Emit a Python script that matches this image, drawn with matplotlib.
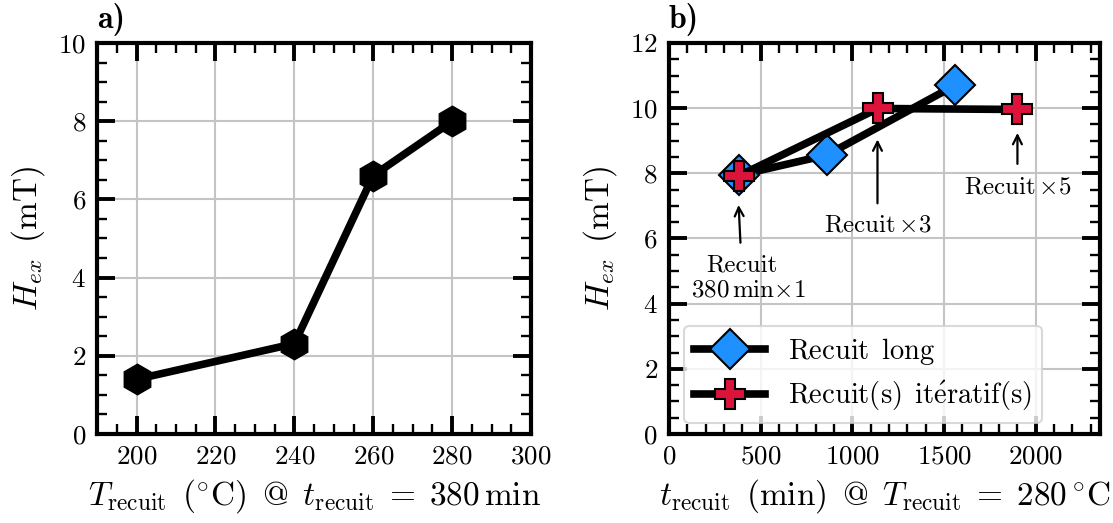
import matplotlib
matplotlib.use("Agg")
import matplotlib.pyplot as plt
from matplotlib.ticker import MultipleLocator
from matplotlib.lines import Line2D

plt.rcParams['font.family'] = ['cmr10', 'DejaVu Serif']
plt.rcParams['mathtext.fontset'] = 'cm'
plt.rcParams['axes.formatter.use_mathtext'] = True
plt.rcParams['axes.unicode_minus'] = False

# Panel a data
temp_a = [200, 240, 260, 280]
hex_a = [1.40, 2.31, 6.61, 8.0]

# Panel b data
t_long = [380, 860, 1560]
hex_long = [7.94, 8.56, 10.70]
t_iter = [380, 1140, 1900]
hex_iter = [7.92, 9.99, 9.96]

label_long = r'$\mathrm{Recuit\ \,long}$'
label_iter = r'$\mathrm{Recuit(s)\ \,it\acute{e}ratif(s)}$'

BLUE = '#1E90FF'
RED = '#DC143C'

fig = plt.figure(figsize=(11.13, 5.23), dpi=100)
axA = fig.add_axes([0.0872, 0.1702, 0.390, 0.7476])
axB = fig.add_axes([0.601, 0.1702, 0.3873, 0.7476])

def style(ax):
    for s in ax.spines.values():
        s.set_linewidth(3.0)
    ax.tick_params(which='both', direction='in', top=True, right=True, labelsize=19.5)
    ax.tick_params(which='major', length=13, width=2.8, pad=8)
    ax.tick_params(which='minor', length=7.5, width=1.7)
    ax.grid(True, which='major', color='#c4c4c4', lw=1.5)
    ax.set_axisbelow(True)

LABEL_FS = 24
LW = 5.5

# ---- Panel a
style(axA)
axA.plot(temp_a, hex_a, '-', color='k', lw=LW, marker='h', ms=22,
         mfc='k', mec='k')
axA.set_xlim(190, 300)
axA.set_ylim(0, 10)
axA.xaxis.set_major_locator(MultipleLocator(20))
axA.xaxis.set_minor_locator(MultipleLocator(5))
axA.yaxis.set_major_locator(MultipleLocator(2))
axA.yaxis.set_minor_locator(MultipleLocator(0.5))
axA.set_xlabel(r'$T_{\mathrm{recuit}}\ \,(^{\circ}\mathrm{C})\ \,@\ \,t_{\mathrm{recuit}}\;=\;380\,\mathrm{min}$',
               fontsize=LABEL_FS, labelpad=6)
axA.set_ylabel(r'$H_{ex}\ \,(\mathrm{mT})$', fontsize=LABEL_FS, labelpad=8)
axA.text(0.0, 1.038, 'a)', transform=axA.transAxes, fontsize=23,
         family='cmb10', ha='left', va='baseline')

# ---- Panel b
style(axB)
axB.plot(t_long, hex_long, '-', color='k', lw=LW, marker='D', ms=20.5,
         mfc=BLUE, mec='k', mew=1.5)
axB.plot(t_iter, hex_iter, '-', color='k', lw=LW, marker='P', ms=22,
         mfc=RED, mec='k', mew=1.5)
axB.set_xlim(0, 2350)
axB.set_ylim(0, 12)
axB.xaxis.set_major_locator(MultipleLocator(500))
axB.xaxis.set_minor_locator(MultipleLocator(100))
axB.yaxis.set_major_locator(MultipleLocator(2))
axB.yaxis.set_minor_locator(MultipleLocator(0.5))
axB.set_xlabel(r'$t_{\mathrm{recuit}}\ \,(\mathrm{min})\ \,@\ \,T_{\mathrm{recuit}}\;=\;280\,^{\circ}\mathrm{C}$',
               fontsize=LABEL_FS, labelpad=6)
axB.set_ylabel(r'$H_{ex}\ \,(\mathrm{mT})$', fontsize=LABEL_FS, labelpad=8)
axB.text(0.0, 1.038, 'b)', transform=axB.transAxes, fontsize=23,
         family='cmb10', ha='left', va='baseline')

ANN_FS = 18
arrow = dict(arrowstyle='->', lw=1.6, color='k', shrinkA=0, shrinkB=0,
             mutation_scale=16)
axB.annotate('', xy=(380, 7.03), xytext=(390, 5.87), arrowprops=arrow)
axB.text(398, 5.0, 'Recuit', fontsize=ANN_FS, ha='center', va='baseline')
axB.text(436, 4.22, r'$380\,\mathrm{min}{\times}1$', fontsize=ANN_FS, ha='center', va='baseline')
axB.annotate('', xy=(1137, 9.04), xytext=(1137, 7.08), arrowprops=arrow)
axB.text(1138, 6.2, r'$\mathrm{Recuit}\,{\times}3$', fontsize=ANN_FS, ha='center', va='baseline')
axB.annotate('', xy=(1900, 9.24), xytext=(1900, 8.29), arrowprops=arrow)
axB.text(1899, 7.38, r'$\mathrm{Recuit}\,{\times}5$', fontsize=ANN_FS, ha='center', va='baseline')

handles = [
    Line2D([], [], color='k', lw=LW, marker='D', ms=20.5, mfc=BLUE, mec='k', mew=1.5),
    Line2D([], [], color='k', lw=LW, marker='P', ms=22, mfc=RED, mec='k', mew=1.5),
]
leg = axB.legend(handles, [label_long, label_iter], loc='lower left',
                 bbox_to_anchor=(0.035, 0.027), borderaxespad=0,
                 fontsize=20.5, handlelength=2.5,
                 framealpha=0.8, fancybox=True, borderpad=0.35,
                 labelspacing=0.45, handletextpad=0.8)
leg.get_frame().set_edgecolor('#d0d0d0')
leg.get_frame().set_linewidth(1.5)

fig.savefig('out.png', dpi=100)
